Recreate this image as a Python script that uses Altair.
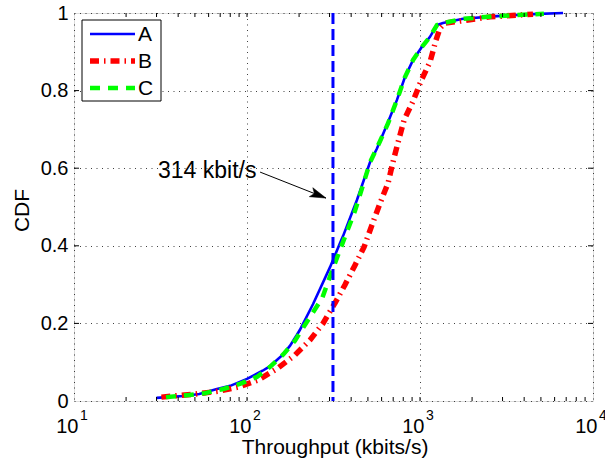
import altair as alt
import pandas as pd

# ---- data ----
a_x = [30, 43, 53, 67, 80, 100, 123, 136, 160, 177, 194, 202, 241, 302, 345, 359,
       432, 514, 563, 588, 646, 736, 819, 912, 1024, 1140, 1253, 1358, 1774, 2786, 4500, 6710]
a_y = [0.008, 0.013, 0.018, 0.031, 0.039, 0.057, 0.078, 0.09, 0.118, 0.142, 0.17, 0.183, 0.25,
       0.345, 0.407, 0.425, 0.518, 0.615, 0.65, 0.67, 0.713, 0.776, 0.835, 0.879, 0.912,
       0.938, 0.969, 0.974, 0.985, 0.992, 0.997, 1.0]

b_x = [32, 40, 50, 68, 89, 116, 151, 189, 231, 275, 323, 368, 421, 475, 528, 588, 654, 698,
       747, 809, 912, 1014, 1143, 1237, 1305, 1396, 1892, 2541, 4500]
b_y = [0.01, 0.014, 0.018, 0.025, 0.036, 0.054, 0.085, 0.118, 0.157, 0.2, 0.253, 0.299, 0.35,
       0.397, 0.454, 0.51, 0.562, 0.616, 0.667, 0.724, 0.773, 0.825, 0.874, 0.93, 0.961, 0.974,
       0.982, 0.99, 0.997]

c_x = [34, 45, 57, 73, 91, 114, 136, 162, 189, 216, 272, 310, 359, 421, 514, 588, 654, 736,
       819, 912, 1024, 1140, 1253, 1358, 1774, 2786, 5200]
c_y = [0.01, 0.015, 0.02, 0.031, 0.044, 0.062, 0.088, 0.12, 0.155, 0.196, 0.265, 0.335, 0.41,
       0.49, 0.615, 0.67, 0.716, 0.776, 0.835, 0.879, 0.912, 0.938, 0.969, 0.974, 0.985,
       0.992, 0.998]

series_names = ["A", "B", "C"]

x_major = [10, 100, 1000, 10000]
x_exponents = ["1", "2", "3", "4"]
x_minor = [20, 30, 40, 50, 60, 70, 80, 90, 200, 300, 400, 500, 600, 700, 800, 900,
           2000, 3000, 4000, 5000, 6000, 7000, 8000, 9000, 100, 1000]
y_ticks = [0, 0.2, 0.4, 0.6, 0.8, 1]

marker_value = [314]
annot_label = ["314 kbit/s"]
annot_text_x = [30.6]
annot_text_y = [0.575]
arrow_start_x = [119]
arrow_start_y = [0.590]
arrow_tip_x = [286]
arrow_tip_y = [0.523]

W, H = 519, 388
FONT = "Liberation Sans"

xs = alt.Scale(type="log", domain=[10, 10000], nice=False)
ys = alt.Scale(domain=[0, 1], nice=False, zero=False)

grid_kw = dict(grid=True, gridDash=[1, 4.5], gridColor="#000000", gridOpacity=0.75,
               gridWidth=1, ticks=False, tickSize=0, domain=False)

x_axis = alt.Axis(values=x_major, labelExpr="'10'", labelFontSize=20, labelAlign="right",
                  labelOffset=4, labelBaseline="alphabetic", labelPadding=31,
                  labelFlush=False, labelOverlap=False, labelColor="#000000",
                  title="Throughput (kbits/s)", titleFontSize=21, titleFontWeight="normal",
                  titleColor="#000000", titleX=W / 2 + 1, titleY=52, titleAlign="center",
                  titleBaseline="alphabetic", **grid_kw)
y_axis = alt.Axis(values=y_ticks, labelExpr="format(datum.value, '~g')", labelFontSize=20,
                  labelPadding=6, labelColor="#000000", labelFlush=False, labelOverlap=False,
                  title="CDF", titleFontSize=21, titleFontWeight="normal", titleColor="#000000",
                  titleX=-52, titleY=197, titleAlign="center", titleBaseline="middle",
                  titleAngle=-90, **grid_kw)


def X(field="x"):
    return alt.X(f"{field}:Q", scale=xs, axis=x_axis)


def Y(field="y"):
    return alt.Y(f"{field}:Q", scale=ys, axis=y_axis)


df_a = pd.DataFrame({"x": a_x, "y": a_y})
df_b = pd.DataFrame({"x": b_x, "y": b_y})
df_c = pd.DataFrame({"x": c_x, "y": c_y})

STYLE_A = dict(color="#0000FF", strokeWidth=2.6)
STYLE_B = dict(color="#FF0000", strokeWidth=5.5, strokeDash=[9, 5, 1.5, 5])
STYLE_C = dict(color="#00FF00", strokeWidth=4.5, strokeDash=[10, 8])

line_a = alt.Chart(df_a).mark_line(**STYLE_A).encode(x=X(), y=Y())
line_b = alt.Chart(df_b).mark_line(**STYLE_B).encode(x=X(), y=Y())
line_c = alt.Chart(df_c).mark_line(**STYLE_C).encode(x=X(), y=Y())

# vertical marker
df_marker = pd.DataFrame({"x": marker_value})
marker = alt.Chart(df_marker).mark_rule(color="#0000FF", strokeWidth=3,
                                        strokeDash=[11, 5]).encode(x=X())

# inward ticks
df_xt = pd.DataFrame({"x": x_minor})
df_yt = pd.DataFrame({"y": y_ticks[1:-1]})
tick_style = dict(color="#000000", strokeWidth=1)
xt_bottom = alt.Chart(df_xt).mark_rule(**tick_style).encode(
    x=X(), y=alt.value(H), y2=alt.value(H - 4))
xt_top = alt.Chart(df_xt).mark_rule(**tick_style).encode(
    x=X(), y=alt.value(0), y2=alt.value(4))
yt_left = alt.Chart(df_yt).mark_rule(**tick_style).encode(
    y=Y(), x=alt.value(0), x2=alt.value(5))
yt_right = alt.Chart(df_yt).mark_rule(**tick_style).encode(
    y=Y(), x=alt.value(W), x2=alt.value(W - 5))

# exponents of the x tick labels
df_exp = pd.DataFrame({"x": x_major, "e": x_exponents})
exps = alt.Chart(df_exp).mark_text(font=FONT, fontSize=14, align="left",
                                   baseline="alphabetic", dx=6, color="#000000").encode(
    x=X(), y=alt.value(407), text="e:N")

# annotation
df_txt = pd.DataFrame({"x": annot_text_x, "y": annot_text_y, "t": annot_label})
annot = alt.Chart(df_txt).mark_text(font=FONT, fontSize=23, align="left",
                                    baseline="alphabetic", color="#000000").encode(
    x=X(), y=Y(), text="t:N")
df_arrow = pd.DataFrame({"x": arrow_start_x, "y": arrow_start_y,
                         "x2": arrow_tip_x, "y2": arrow_tip_y})
arrow_line = alt.Chart(df_arrow).mark_rule(color="#000000", strokeWidth=1).encode(
    x=X(), y=Y(), x2="x2:Q", y2="y2:Q")
df_tip = pd.DataFrame({"x": arrow_tip_x, "y": arrow_tip_y})
arrow_head = alt.Chart(df_tip).mark_point(
    shape="M0,0L-2,-0.6L-1.55,0L-2,0.6Z", filled=True, fill="#000000", stroke="#000000",
    strokeWidth=0.5, opacity=1, size=256, angle=21.5).encode(x=X(), y=Y())

# legend (drawn by hand, MATLAB style)
df_one = pd.DataFrame({"k": [0]})
leg_box = alt.Chart(df_one).mark_rect(fill="#FFFFFF", stroke="#000000", strokeWidth=1).encode(
    x=alt.value(8), x2=alt.value(87), y=alt.value(7), y2=alt.value(88))
leg_rows = [21, 48, 75]
leg_styles = [STYLE_A, STYLE_B, STYLE_C]
leg_layers = []
for name, row, st in zip(series_names, leg_rows, leg_styles):
    leg_layers.append(alt.Chart(df_one).mark_rule(**st).encode(
        x=alt.value(16), x2=alt.value(61), y=alt.value(row)))
    leg_layers.append(alt.Chart(df_one).mark_text(
        font=FONT, fontSize=21, align="left", baseline="middle", color="#000000").encode(
        x=alt.value(64), y=alt.value(row + 1), text=alt.value(name)))

chart = alt.layer(
    line_a, line_b, line_c, marker,
    xt_bottom, xt_top, yt_left, yt_right,
    exps, annot, arrow_line, arrow_head,
    leg_box, *leg_layers,
).properties(
    width=W, height=H,
    autosize=alt.AutoSizeParams(type="none"),
    padding={"left": 74, "top": 13, "right": 12, "bottom": 59},
    background="#FFFFFF",
).configure_view(
    stroke="#000000", strokeWidth=1
).configure(
    font=FONT
)

chart.save("out.html", embed_options={"renderer": "svg", "actions": False})
